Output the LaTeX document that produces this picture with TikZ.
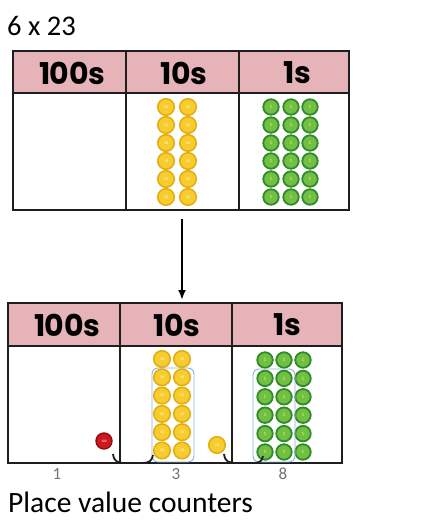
\documentclass[tikz,border=0pt]{standalone}
\usepackage{fontspec}
\usetikzlibrary{arrows.meta}
\setmainfont{Carlito}
\newfontfamily\hdrfont[LetterSpace=-1.5]{Poppins}
\definecolor{hdrpink}{HTML}{E6B4B8}
\definecolor{tline}{HTML}{1E1E1E}
\definecolor{yfill}{HTML}{F7CC2E}
\definecolor{yrim}{HTML}{E3AE12}
\definecolor{gfill}{HTML}{72C043}
\definecolor{grim}{HTML}{2F8A2A}
\definecolor{rfill}{HTML}{D0161E}
\definecolor{rrim}{HTML}{8E0E12}
\definecolor{grpblue}{HTML}{8FB2DA}
\tikzset{
  tablebox/.style={draw=tline, line width=2.6bp},
  hdrtext/.style={font=\hdrfont\bfseries\fontsize{30bp}{32bp}\selectfont, text=black, inner sep=0},
  tencounter/.style={circle, minimum size=16.5bp, inner sep=0, fill=yfill, draw=yrim, line width=1.6bp,
    font=\fontsize{4bp}{4bp}\selectfont, text=white},
  onecounter/.style={circle, minimum size=15.5bp, inner sep=0, fill=gfill, draw=grim, line width=1.8bp,
    font=\fontsize{5bp}{5bp}\selectfont, text=yellow!60},
  hundredcounter/.style={circle, minimum size=16bp, inner sep=0, fill=rfill, draw=rrim, line width=1.4bp,
    font=\fontsize{3.5bp}{4bp}\selectfont, text=white},
  grpbox/.style={draw=grpblue, line width=0.9bp, rounded corners=6bp},
  bracket/.style={draw=tline, line width=1.8bp},
  digit/.style={font=\fontsize{17bp}{18bp}\selectfont, text=black!55, inner sep=0},
  bigtext/.style={font=\fontsize{29.5bp}{32bp}\selectfont, inner sep=0, anchor=base west}
}
\begin{document}
\begin{tikzpicture}[x=1bp,y=-1bp]
\useasboundingbox[fill=white] (0,0) rectangle (428,528);

% title
\node[bigtext, font=\fontsize{28.5bp}{30bp}\selectfont] (title) at (7,36) {6 x 23};

% ---------- top table ----------
\fill[hdrpink] (13,51) rectangle (349,93);
\draw[tablebox] (13,51) rectangle (349,210);
\draw[tablebox] (13,93) -- (349,93);
\draw[tablebox] (126,51) -- (126,210);
\draw[tablebox] (239,51) -- (239,210);
\node[hdrtext] (th1) at (72,73) {100s};
\node[hdrtext] (th2) at (184,73) {10s};
\node[hdrtext] (th3) at (297,73) {1s};

\foreach \r [count=\k] in {0,...,5} {
  \node[tencounter] (tt\k a) at (166,107+18*\r) {10};
  \node[tencounter] (tt\k b) at (188,107+18*\r) {10};
  \node[onecounter] (to\k a) at (271,107+18*\r) {1};
  \node[onecounter] (to\k b) at (291,107+18*\r) {1};
  \node[onecounter] (to\k c) at (310,107+18*\r) {1};
}

% ---------- arrow ----------
\coordinate (arrtop) at (182,219);
\coordinate (arrbot) at (182,300);
\draw[line width=2bp, -{Latex[length=10bp,width=8bp]}] (arrtop) -- (arrbot);

% ---------- bottom table ----------
\fill[hdrpink] (8,303) rectangle (342,346);
\draw[tablebox] (8,303) rectangle (342,463);
\draw[tablebox] (8,346) -- (342,346);
\draw[tablebox] (120,303) -- (120,463);
\draw[tablebox] (232,303) -- (232,463);
\node[hdrtext] (bh1) at (67,325) {100s};
\node[hdrtext] (bh2) at (177,325) {10s};
\node[hdrtext] (bh3) at (287,325) {1s};

\foreach \r [count=\k] in {0,...,5} {
  \node[tencounter] (bt\k a) at (162,359+18.3*\r) {10};
  \node[tencounter] (bt\k b) at (182,359+18.3*\r) {10};
  \node[onecounter] (bo\k a) at (265,360+18.4*\r) {1};
  \node[onecounter] (bo\k b) at (284,360+18.4*\r) {1};
  \node[onecounter] (bo\k c) at (303,360+18.4*\r) {1};
}
\draw[grpbox] (152,368) rectangle (194,462);
\draw[grpbox] (253,369) rectangle (295,462);

\node[tencounter] (extraten) at (217,445) {10};
\node[hundredcounter] (hund) at (104,441) {100};

% brackets
\draw[bracket] (113,454) .. controls (114,462) and (118,463) .. (126,463) -- (142,463) .. controls (149,463) and (152,461) .. (153,455);
\draw[bracket] (224,454) .. controls (225,462) and (229,463) .. (237,463) -- (253,463) .. controls (260,463) and (262,461) .. (263,456);

% digits
\node[digit] (d1) at (57,474) {1};
\node[digit] (d3) at (176,474) {3};
\node[digit] (d8) at (283,474) {8};

% caption
\node[bigtext] (caption) at (8,512) {Place value counters};
\end{tikzpicture}
\end{document}
